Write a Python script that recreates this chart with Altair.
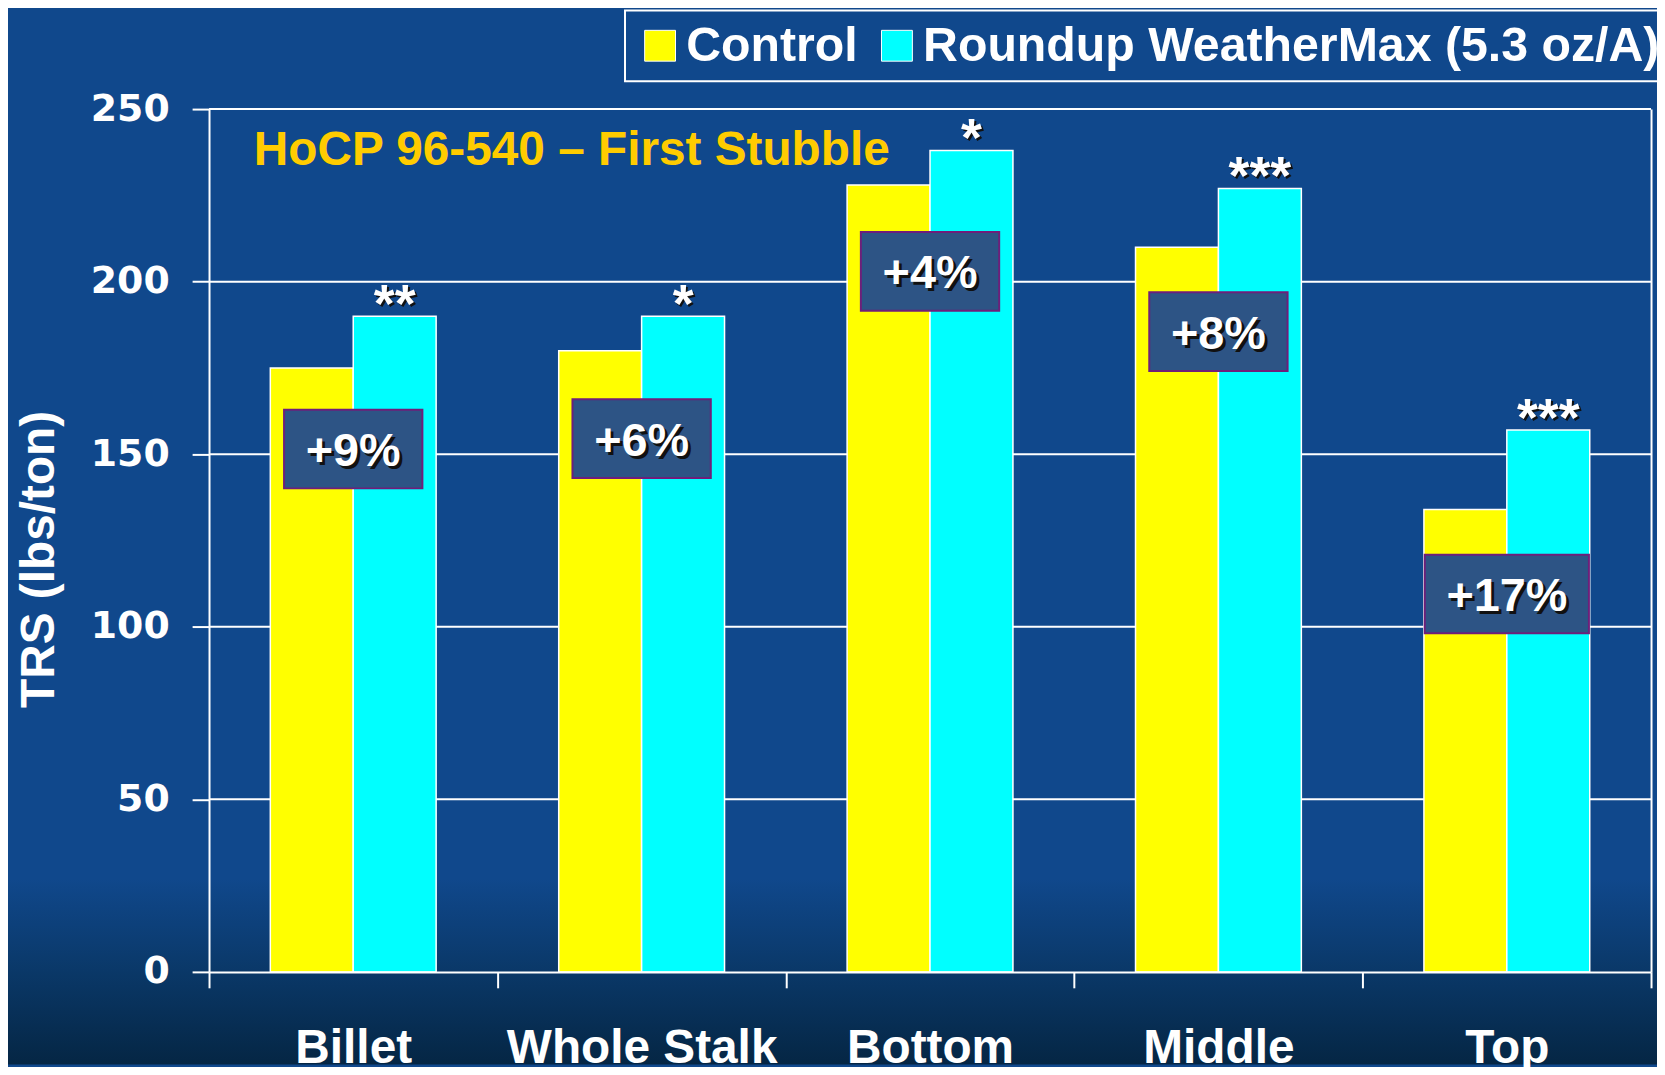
import altair as alt
import pandas as pd

# ---- data ----
categories = ["Billet", "Whole Stalk", "Bottom", "Middle", "Top"]
series = ["Control", "Roundup WeatherMax (5.3 oz/A)"]
control = [175, 180, 228, 210, 134]
roundup = [190, 190, 238, 227, 157]
gains = ["+9%", "+6%", "+4%", "+8%", "+17%"]
stars = ["**", "*", "*", "***", "***"]
gain_label_y = [151.5, 154.5, 203, 185.5, 109.5]   # centre of each gain label, in TRS units
y_ticks = [0, 50, 100, 150, 200, 250]

bars_df = pd.DataFrame({
    "cat": categories * 2,
    "series": [series[0]] * len(categories) + [series[1]] * len(categories),
    "trs": control + roundup,
})
ann_df = pd.DataFrame({
    "cat": categories,
    "series": [series[1]] * len(categories),
    "gain": gains,
    "stars": stars,
    "box": gain_label_y,
    "top": roundup,
})
grid_df = pd.DataFrame({"v": y_ticks[1:]})

# ---- styling ----
W, H = 1449, 867
FONT = "Liberation Sans"
BG = "#10488C"
BOX_FILL = "#2D5485"
BOX_STROKE = "#6E1F7A"
HALF_BOX = 11.4  # half height of gain label boxes, TRS units

# bar scale (padded bands) and axis scale (full-step bands, same centres)
x_scale = alt.Scale(domain=categories, paddingInner=0.425, paddingOuter=0.2125)
x_scale_axis = alt.Scale(domain=categories, paddingInner=0, paddingOuter=0)
y_scale = alt.Scale(domain=[0, 250], nice=False)
off_scale = alt.Scale(domain=series, paddingInner=0, paddingOuter=0)

x_axis = alt.Axis(
    orient="bottom", title=None, tickBand="extent", tickSize=16, tickWidth=2, tickColor="white",
    domainColor="white", domainWidth=2, labelFont=FONT, labelFontSize=48,
    labelFontWeight="bold", labelColor="white", labelBaseline="alphabetic",
    labelPadding=75, labelAngle=0, labelLimit=0, grid=False, zindex=1,
)
y_axis = alt.Axis(
    orient="left", title="TRS (lbs/ton)", values=y_ticks, tickSize=17, tickWidth=2,
    tickColor="white", domainColor="white", domainWidth=2,
    labelFont="DejaVu Sans", labelFontSize=38, labelFontWeight="bold",
    labelColor="white", labelPadding=23, grid=False, zindex=1,
    titleFont=FONT, titleFontSize=48, titleFontWeight="bold", titleColor="white",
    titleAngle=270, titleX=-170, titleY=452, titleAlign="center", titleBaseline="middle",
)
right_axis = alt.Axis(
    orient="right", labels=False, ticks=False, domain=True, domainColor="white",
    domainWidth=2, title=None, grid=False, zindex=1,
)

legend = alt.Legend(
    title=None, orient="none", legendX=418, legendY=-99, direction="horizontal",
    strokeColor="white", padding=11, symbolType="square", symbolSize=961,
    symbolStrokeColor="white", symbolStrokeWidth=1, symbolOpacity=1,
    labelFont=FONT, labelFontSize=48.5, labelFontWeight="bold", labelColor="white",
    labelOffset=2, columnPadding=15, labelLimit=2000,
)

# darker band at the bottom of the slide background
shade = alt.Chart(alt.Data(values=[{}])).mark_rect(
    color=alt.Gradient(
        gradient="linear", x1=0, x2=0, y1=0, y2=1,
        stops=[
            alt.GradientStop(color=BG, offset=0),
            alt.GradientStop(color="#0A3868", offset=0.5),
            alt.GradientStop(color="#052644", offset=1),
        ],
    )
).encode(x=alt.value(-202), x2=alt.value(W + 8), y=alt.value(773), y2=alt.value(960))

gridlines = alt.Chart(grid_df).mark_rule(color="white", strokeWidth=2).encode(
    y=alt.Y("v:Q", scale=y_scale, axis=right_axis)
)

bars = alt.Chart(bars_df).mark_bar(stroke="white", strokeWidth=1.5).encode(
    x=alt.X("cat:N", scale=x_scale, axis=None),
    xOffset=alt.XOffset("series:N", scale=off_scale),
    y=alt.Y("trs:Q", scale=y_scale, axis=y_axis),
    color=alt.Color("series:N", scale=alt.Scale(domain=series, range=["#FFFF00", "#00FFFF"]),
                    legend=legend),
)

box_base = alt.Chart(ann_df).transform_calculate(
    lo=f"datum.box - {HALF_BOX}", hi=f"datum.box + {HALF_BOX}"
)
box_enc = dict(
    x=alt.X("cat:N", scale=x_scale_axis, axis=None),
    y=alt.Y("lo:Q", scale=y_scale, axis=None),
    y2="hi:Q",
)
boxes = box_base.transform_filter("length(datum.gain) < 4").mark_bar(
    width=139, color=BOX_FILL, stroke=BOX_STROKE, strokeWidth=2
).encode(**box_enc)
boxes_wide = box_base.transform_filter("length(datum.gain) >= 4").mark_bar(
    width=165, color=BOX_FILL, stroke=BOX_STROKE, strokeWidth=2
).encode(**box_enc)

txt = dict(font=FONT, fontWeight="bold", baseline="alphabetic", align="center")

pct_shadow = alt.Chart(ann_df).mark_text(fontSize=47, color="#111111", dx=3, dy=20, **txt).encode(
    x=alt.X("cat:N", scale=x_scale_axis, axis=None),
    y=alt.Y("box:Q", scale=y_scale, axis=None),
    text="gain:N",
)
pct = alt.Chart(ann_df).mark_text(fontSize=47, color="white", dy=17, **txt).encode(
    x=alt.X("cat:N", scale=x_scale_axis, axis=x_axis),
    y=alt.Y("box:Q", scale=y_scale, axis=None),
    text="gain:N",
)

star_enc = dict(
    x=alt.X("cat:N", scale=x_scale, axis=None),
    xOffset=alt.XOffset("series:N", scale=off_scale),
    y=alt.Y("top:Q", scale=y_scale, axis=None),
    text="stars:N",
)
star_shadow = alt.Chart(ann_df).mark_text(fontSize=54, color="#111111", dx=2, dy=8, **txt).encode(**star_enc)
star = alt.Chart(ann_df).mark_text(fontSize=54, color="white", dy=6, **txt).encode(**star_enc)

chart = alt.layer(
    shade, gridlines, bars, boxes, boxes_wide, pct_shadow, pct, star_shadow, star
).resolve_scale(x="independent").resolve_axis(x="independent", y="independent").properties(
    width=W, height=H,
    padding={"left": 202, "top": 99, "right": 6, "bottom": 93},
    autosize=alt.AutoSizeParams(type="none"),
    background=BG,
    title=alt.TitleParams(
        text="HoCP 96-540 – First Stubble", anchor="start", frame="group",
        dx=45, dy=204, offset=0, baseline="alphabetic",
        font=FONT, fontSize=48, fontWeight="bold", color="#FFCC00",
    ),
).configure_view(stroke=None).configure_legend(strokeWidth=2)

chart.save("out.html", embed_options={"renderer": "svg", "actions": False})
